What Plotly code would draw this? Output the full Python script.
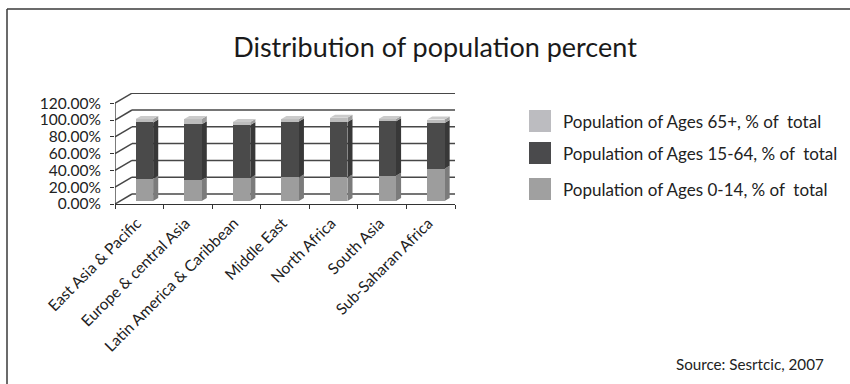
import plotly.graph_objects as go

# ---- data -------------------------------------------------------------
regions = [
    "East Asia & Pacific",
    "Europe & central Asia",
    "Latin America & Caribbean",
    "Middle East",
    "North Africa",
    "South Asia",
    "Sub-Saharan Africa",
]
ages_0_14 = [26.5, 25.0, 27.5, 28.0, 28.0, 30.0, 38.5]
ages_15_64 = [67.0, 66.5, 63.0, 66.5, 66.0, 65.0, 54.5]
ages_65_plus = [4.0, 6.0, 3.5, 3.0, 5.0, 2.5, 4.0]
series_names = [
    "Population of Ages 65+, % of\u00a0 total",
    "Population of Ages 15-64, % of\u00a0 total",
    "Population of Ages 0-14, % of\u00a0 total",
]
y_ticks = [0, 20, 40, 60, 80, 100, 120]
title_text = "Distribution of population percent"
source_text = "Source: Sesrtcic, 2007"

# ---- page / plot geometry (pixels) ------------------------------------
W, H = 850, 384
ML, MR, MT, MB = 115, 395, 93, 180
PW, PH = W - ML - MR, H - MT - MB
PX_PER_PCT = 0.84
Y_MAX = PH / PX_PER_PCT

# oblique depth of the chart box, in data units
DEPTH_X = 17 / (PW / 7)          # category units
DEPTH_Y = 10 / PX_PER_PCT        # percent units
BAR_POS = 0.3                    # where the bar front sits inside the depth
BAR_DEPTH = 0.3                  # bar thickness as a share of the depth
BAR_W = 0.36
LABEL_SHIFT = -0.05              # category labels sit slightly left of centre

GRID = "#474747"
FONT_TXT = "Lato"

colors = {
    "0_14": ("#9d9d9d", "#7b7b7b", "#b0b0b0"),
    "15_64": ("#4a4a4a", "#383838", "#5a5a5a"),
    "65": ("#bdbdbd", "#9d9d9d", "#cbcbcb"),
}
legend_colors = ["#bcbcc0", "#4a4a4c", "#a0a0a0"]


def ppx(px):
    return (px - ML) / PW


def ppy(py):
    return (H - MB - py) / PH


fig = go.Figure()
shapes = []

# left wall diagonals and back-wall gridlines
x_left = -0.5
x_right = len(regions) - 0.5
for v in y_ticks:
    shapes.append(dict(type="line", xref="x", yref="y", layer="below",
                       x0=x_left, y0=v, x1=x_left + DEPTH_X, y1=v + DEPTH_Y,
                       line=dict(color=GRID, width=1.5)))
    shapes.append(dict(type="line", xref="x", yref="y", layer="below",
                       x0=x_left + DEPTH_X, y0=v + DEPTH_Y, x1=x_right, y1=v + DEPTH_Y,
                       line=dict(color=GRID, width=1.5)))
# vertical value axis
shapes.append(dict(type="line", xref="x", yref="y", layer="below",
                   x0=x_left, y0=0, x1=x_left, y1=max(y_ticks),
                   line=dict(color="#333333", width=1.3)))

# stacked bars (front faces) plus oblique side / top faces
dx = BAR_DEPTH * DEPTH_X
dy = BAR_DEPTH * DEPTH_Y
x_front = [i + BAR_POS * DEPTH_X for i in range(len(regions))]
y_off = BAR_POS * DEPTH_Y

stack = [("0_14", ages_0_14, series_names[2]),
         ("15_64", ages_15_64, series_names[1]),
         ("65", ages_65_plus, series_names[0])]
cum = [0.0] * len(regions)
for key, vals, name in stack:
    front, side, top = colors[key]
    bases = [y_off + c for c in cum]
    fig.add_trace(go.Bar(
        x=x_front, y=vals, base=bases, width=BAR_W, name=name,
        marker=dict(color=front, line=dict(width=0)), showlegend=False,
    ))
    for xf, b, v in zip(x_front, bases, vals):
        xr = xf + BAR_W / 2
        xl = xf - BAR_W / 2
        t = b + v
        shapes.append(dict(
            type="path", xref="x", yref="y", layer="below",
            path=f"M{xr},{b} L{xr + dx},{b + dy} L{xr + dx},{t + dy} L{xr},{t} Z",
            fillcolor=side, line=dict(width=0)))
        if key == "65":
            shapes.append(dict(
                type="path", xref="x", yref="y", layer="above",
                path=f"M{xl},{t} L{xl + dx},{t + dy} L{xr + dx},{t + dy} L{xr},{t} Z",
                fillcolor=top, line=dict(width=0)))
    cum = [c + v for c, v in zip(cum, vals)]

# outer frame (top and left edges)
shapes.append(dict(type="line", xref="paper", yref="paper",
                   x0=ppx(7), y0=ppy(9), x1=ppx(W + 5), y1=ppy(9),
                   line=dict(color="#3a3a3a", width=1.5)))
shapes.append(dict(type="line", xref="paper", yref="paper",
                   x0=ppx(7), y0=ppy(9), x1=ppx(7), y1=ppy(H + 5),
                   line=dict(color="#3a3a3a", width=1.5)))

# legend swatches and labels
annotations = []
legend_rows = [121, 153, 189]
for name, col, yc in zip(series_names, legend_colors, legend_rows):
    shapes.append(dict(type="rect", xref="paper", yref="paper",
                       x0=ppx(529), x1=ppx(551), y0=ppy(yc - 11), y1=ppy(yc + 11),
                       fillcolor=col, line=dict(width=0)))
    annotations.append(dict(xref="paper", yref="paper", x=ppx(561), y=ppy(yc),
                            xanchor="left", yanchor="middle", showarrow=False,
                            text=name, font=dict(family=FONT_TXT, size=17, color="#222222")))

annotations.append(dict(xref="paper", yref="paper", x=ppx(750), y=ppy(364),
                        xanchor="center", yanchor="middle", showarrow=False,
                        text=source_text, font=dict(family=FONT_TXT, size=15.2, color="#222222")))

fig.update_layout(
    width=W, height=H, autosize=False,
    margin=dict(l=ML, r=MR, t=MT, b=MB, pad=0),
    paper_bgcolor="white", plot_bgcolor="white",
    barmode="overlay", bargap=0,
    showlegend=False,
    title=dict(text=title_text, xref="container", yref="container",
               x=435 / W, y=1 - 48 / H, xanchor="center", yanchor="middle",
               font=dict(family=FONT_TXT, size=27, color="#1a1a1a")),
    shapes=shapes,
    annotations=annotations,
)

fig.update_xaxes(
    range=[x_left, x_right], showgrid=False, zeroline=False,
    tickmode="array", tickvals=[i + LABEL_SHIFT for i in range(len(regions))],
    ticktext=regions,
    tickangle=-45, ticks="", ticklen=0, ticklabelstandoff=3,
    showline=True, linecolor="#333333", linewidth=1.3,
    minor=dict(tickmode="array", tickvals=[i - 0.5 for i in range(len(regions) + 1)],
               ticks="outside", ticklen=4, tickcolor="#333333", tickwidth=1),
    tickfont=dict(family=FONT_TXT, size=15.5, color="#222222"),
)
fig.update_yaxes(
    range=[0, Y_MAX], showgrid=False, zeroline=False, showline=False,
    tickmode="array", tickvals=y_ticks, ticktext=[f"{v:.2f}%" for v in y_ticks],
    ticks="outside", ticklen=4, tickcolor="#333333", tickwidth=1,
    ticklabelstandoff=6,
    tickfont=dict(family=FONT_TXT, size=15.5, color="#222222"),
)

fig.write_html("out.html")
